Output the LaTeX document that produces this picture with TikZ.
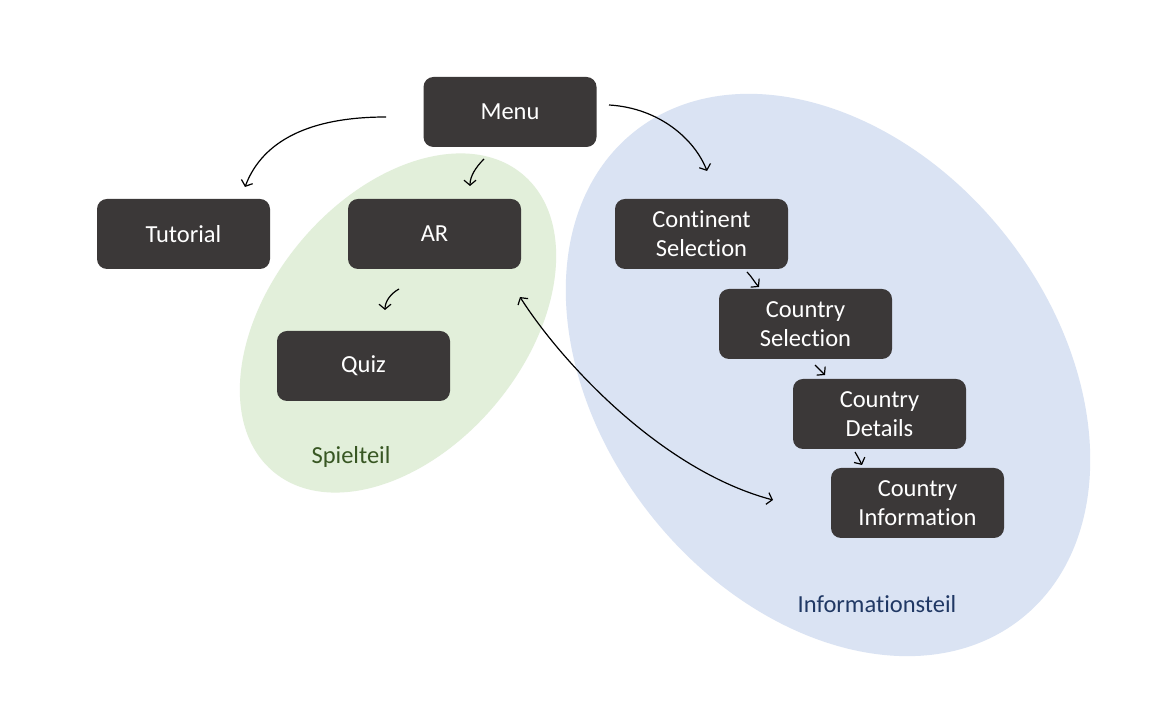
\documentclass[tikz,border=0pt]{standalone}
\usepackage{fontspec}
\setmainfont{Carlito}[Ligatures=NoCommon]
\usetikzlibrary{arrows.meta}

\begin{document}
\begin{tikzpicture}[x=1pt,y=1pt,
  box/.style={fill=boxColor,text=white,rounded corners=10pt,minimum width=173pt,
    minimum height=70pt,inner sep=0pt,align=center,font=\fontsize{24.5}{29}\selectfont},
  lnk/.style={draw=black,line width=1.2pt,-{Straight Barb[length=5pt,width=12pt]}},
  grp/.style={font=\fontsize{24.5}{29}\selectfont}]
\definecolor{boxColor}{RGB}{59,56,56}
\definecolor{greenFill}{RGB}{226,239,218}
\definecolor{blueFill}{RGB}{218,227,243}
\definecolor{greenText}{RGB}{56,87,35}
\definecolor{blueText}{RGB}{32,56,100}
\path[use as bounding box,fill=white] (0,0) rectangle (1160,717);

% groups
\fill[greenFill,rotate around={50:(398,394)}] (398,394) ellipse (194 and 127);
\fill[blueFill,rotate around={-51.5:(828,342)}] (828,342) ellipse (311 and 226);
\node[grp,text=greenText] (spiel) at (351,260) {Spielteil};
\node[grp,text=blueText] (info) at (877,113) {Informationsteil};

% screens
\node[box] (menu) at (510,605) {Menu};
\node[box] (tutorial) at (183.5,483) {Tutorial};
\node[box] (ar) at (434.5,483) {AR};
\node[box] (quiz) at (363.5,351) {Quiz};
\node[box] (continent) at (701.5,483) {Continent\\Selection};
\node[box] (country) at (805.5,393) {Country\\Selection};
\node[box] (details) at (879.5,303) {Country\\Details};
\node[box] (information) at (917.5,214) {Country\\Information};

% arrow ends
\coordinate (menuL) at (386,600);
\coordinate (tutorialT) at (245,530);
\coordinate (menuB) at (484,558);
\coordinate (arT) at (470,531);
\coordinate (menuR) at (609,612);
\coordinate (continentT) at (707,546);
\coordinate (arB) at (399,428);
\coordinate (quizT) at (385,407);
\coordinate (arR) at (520,420);
\coordinate (informationL) at (773,217);
\coordinate (continentB) at (747,445);
\coordinate (countryT) at (759,430);
\coordinate (countryB) at (815,352);
\coordinate (detailsT) at (825,342);
\coordinate (detailsB) at (855,265);
\coordinate (informationT) at (862,252);

\draw[lnk] (menuL) .. controls (300,600) and (260,570) .. (tutorialT);
\draw[lnk] (menuB) .. controls (476,550) and (470,541) .. (arT);
\draw[lnk] (menuR) .. controls (660,609) and (695,577) .. (continentT);
\draw[lnk] (arB) .. controls (390,423) and (385,415) .. (quizT);
\draw[lnk,{Straight Barb[length=5pt,width=12pt]}-{Straight Barb[length=5pt,width=12pt]}] (arR) .. controls (560,357) and (660,247) .. (informationL);
\draw[lnk] (continentB) .. controls (752,440) and (755,434) .. (countryT);
\draw[lnk] (countryB) .. controls (819,348) and (822,345) .. (detailsT);
\draw[lnk] (detailsB) .. controls (858,260) and (860,256) .. (informationT);
\end{tikzpicture}
\end{document}
